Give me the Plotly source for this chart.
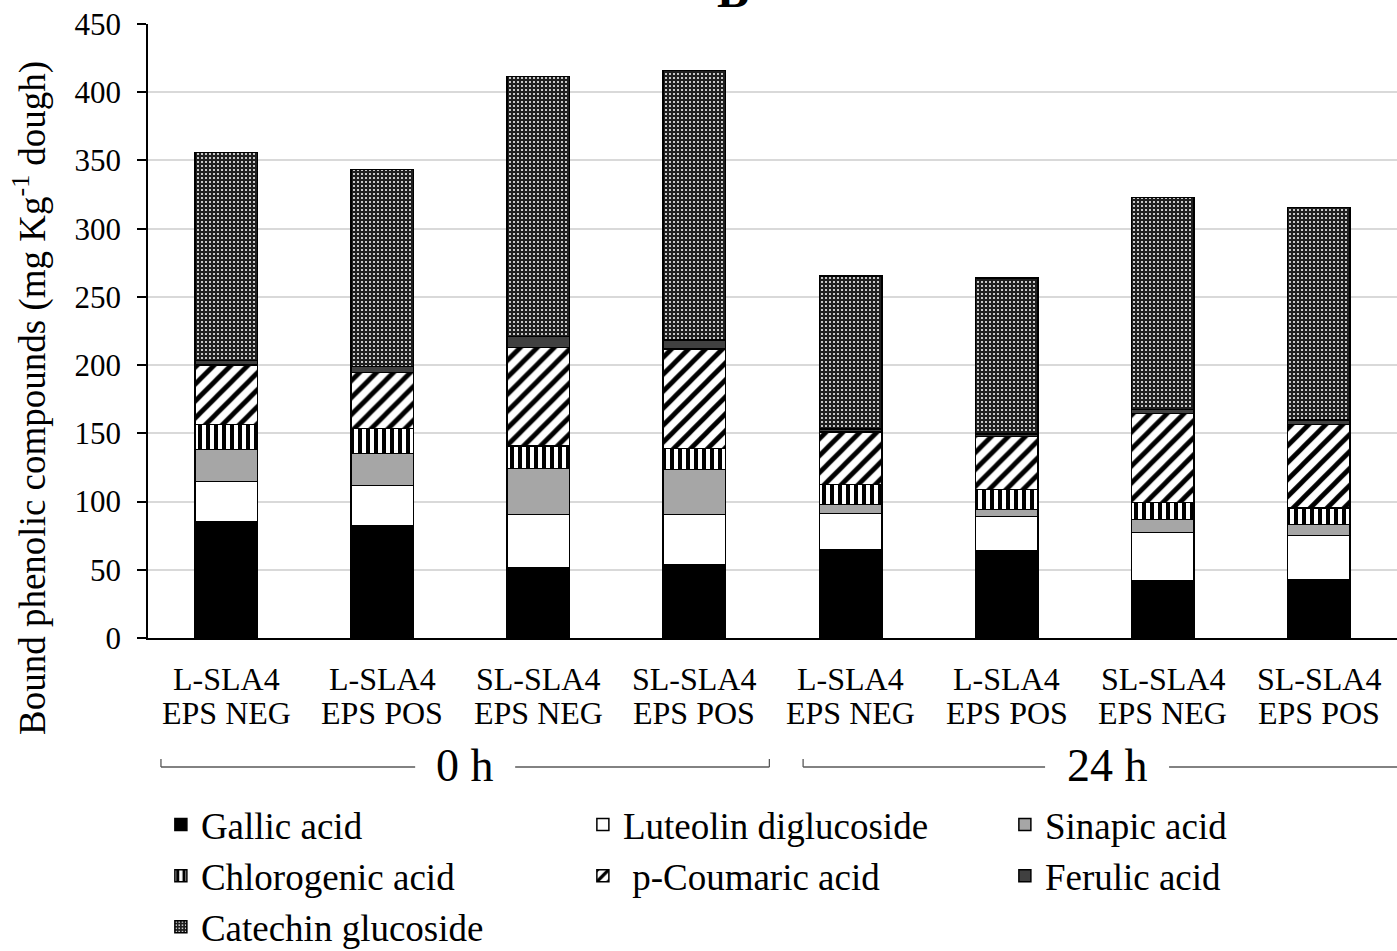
import plotly.graph_objects as go

# Samples (strain / EPS phenotype) and fermentation times
strain_labels = ["L-SLA4", "L-SLA4", "SL-SLA4", "SL-SLA4", "L-SLA4", "L-SLA4", "SL-SLA4", "SL-SLA4"]
eps_labels = ["EPS NEG", "EPS POS", "EPS NEG", "EPS POS", "EPS NEG", "EPS POS", "EPS NEG", "EPS POS"]
time_groups = ["0 h", "24 h"]

# Bound phenolic compounds, mg Kg-1 dough
gallic = [85.3, 82.4, 51.2, 53.7, 64.8, 63.6, 41.8, 42.8]
luteolin = [29.3, 29.3, 39.3, 36.8, 26.4, 25.6, 35.7, 32.3]
sinapic = [23.7, 23.7, 33.9, 33.1, 6.8, 5.0, 9.3, 8.0]
chlorogenic = [18.3, 18.0, 16.3, 15.2, 14.5, 14.7, 12.5, 12.3]
coumaric = [43.4, 41.3, 72.3, 72.9, 38.6, 38.6, 65.2, 61.1]
ferulic = [3.2, 4.2, 8.1, 6.8, 2.0, 2.0, 3.0, 3.2]
catechin = [152.8, 144.6, 190.6, 197.6, 112.2, 114.4, 155.2, 155.9]

FONT = "Liberation Serif, Times New Roman, serif"
W, H = 1397, 951
M_L, M_R, M_T, M_B = 148, 0, 24, 313
PLOT_W = W - M_L - M_R
PLOT_H = H - M_T - M_B
N = len(strain_labels)
x_pos = list(range(N))


def cat_paper(u):
    """Category units -> paper x."""
    return (u + 0.5) / N


def pix_paper_x(px):
    return (px - M_L) / PLOT_W


def pix_paper_y(py):
    """Pixel row -> paper y."""
    return (H - M_B - py) / PLOT_H


series = [
    ("Gallic acid", gallic, dict(color="#000000")),
    ("Luteolin diglucoside", luteolin, dict(color="#ffffff")),
    ("Sinapic acid", sinapic, dict(color="#a6a6a6")),
    ("Chlorogenic acid", chlorogenic,
     dict(color="#ffffff", pattern=dict(shape="|", fgcolor="#000000", bgcolor="#ffffff",
                                        size=8, solidity=0.5, fillmode="replace"))),
    (" p-Coumaric acid", coumaric,
     dict(color="#ffffff", pattern=dict(shape="/", fgcolor="#000000", bgcolor="#ffffff",
                                        size=12, solidity=0.4, fillmode="replace"))),
    ("Ferulic acid", ferulic, dict(color="#404040")),
    ("Catechin glucoside", catechin,
     dict(color="#262626", pattern=dict(shape=".", fgcolor="#ffffff", bgcolor="#1f1f1f",
                                        size=4, solidity=0.2, fillmode="replace"))),
]

fig = go.Figure()
for name, vals, mk in series:
    fig.add_trace(go.Bar(
        x=x_pos, y=vals, name=name, width=0.4,
        marker=dict(**mk, line=dict(color="#000000", width=1.5)),
    ))

annotations = []
# two-line category labels
for i in range(N):
    annotations.append(dict(x=i, xref="x", y=pix_paper_y(679), yref="paper", text=strain_labels[i],
                            showarrow=False, font=dict(family=FONT, size=32, color="#000"),
                            xanchor="center", yanchor="middle"))
    annotations.append(dict(x=i, xref="x", y=pix_paper_y(713), yref="paper", text=eps_labels[i],
                            showarrow=False, font=dict(family=FONT, size=32, color="#000"),
                            xanchor="center", yanchor="middle"))

# time-group brackets: line broken around the centred label
spans = [(-0.417, 3.48), (3.696, 7.59)]
gap_half_px = [50, 62]
y_line = pix_paper_y(767)
y_tip = pix_paper_y(759)
shapes = []
bracket_line = dict(color="#595959", width=1.3)
for (a, b), label, gh in zip(spans, time_groups, gap_half_px):
    xa, xb = cat_paper(a), cat_paper(b)
    xm = (xa + xb) / 2
    g = gh / PLOT_W
    shapes.append(dict(type="line", xref="paper", yref="paper", x0=xa, x1=xm - g, y0=y_line, y1=y_line,
                       line=bracket_line))
    shapes.append(dict(type="line", xref="paper", yref="paper", x0=xm + g, x1=xb, y0=y_line, y1=y_line,
                       line=bracket_line))
    for xe in (xa, xb):
        shapes.append(dict(type="line", xref="paper", yref="paper", x0=xe, x1=xe, y0=y_line, y1=y_tip,
                           line=bracket_line))
    annotations.append(dict(x=xm, xref="paper", y=pix_paper_y(765), yref="paper", text=label,
                            showarrow=False, font=dict(family=FONT, size=46, color="#000"),
                            xanchor="center", yanchor="middle"))

# y-axis title
annotations.append(dict(x=pix_paper_x(30), xref="paper", y=pix_paper_y(398), yref="paper",
                        text="Bound phenolic compounds (mg Kg<sup>-1</sup> dough)", textangle=-90,
                        showarrow=False, font=dict(family=FONT, size=37, color="#000"),
                        xanchor="center", yanchor="middle"))

# panel letter
annotations.append(dict(x=pix_paper_x(733), xref="paper", y=pix_paper_y(19), yref="paper",
                        text="<b>B</b>", showarrow=False, font=dict(family=FONT, size=48, color="#000"),
                        xanchor="center", yanchor="bottom"))

fig.update_layout(
    width=W, height=H,
    margin=dict(l=M_L, r=M_R, t=M_T, b=M_B, autoexpand=False),
    paper_bgcolor="#ffffff", plot_bgcolor="#ffffff",
    barmode="stack", bargap=0.6,
    font=dict(family=FONT, color="#000"),
    showlegend=True,
    legend=dict(orientation="h", traceorder="normal", x=-0.0001, xanchor="left", indentation=13,
                y=pix_paper_y(794), yanchor="top", entrywidth=364, entrywidthmode="pixels",
                font=dict(family=FONT, size=37, color="#000"), bgcolor="rgba(0,0,0,0)"),
    xaxis=dict(range=[-0.5, N - 0.5], showticklabels=False, ticks="", showgrid=False,
               showline=True, linecolor="#000000", linewidth=1.5, zeroline=False, fixedrange=True),
    yaxis=dict(range=[0, 450], dtick=50, tick0=0, showgrid=True, gridcolor="#d9d9d9", gridwidth=1.5,
               ticks="outside", ticklen=9, tickwidth=1.5, tickcolor="#000000",
               showline=True, linecolor="#000000", linewidth=1.5, zeroline=False,
               tickfont=dict(family=FONT, size=31, color="#000"), ticklabelstandoff=10),
    annotations=annotations,
    shapes=shapes,
)

fig.write_html("out.html")
